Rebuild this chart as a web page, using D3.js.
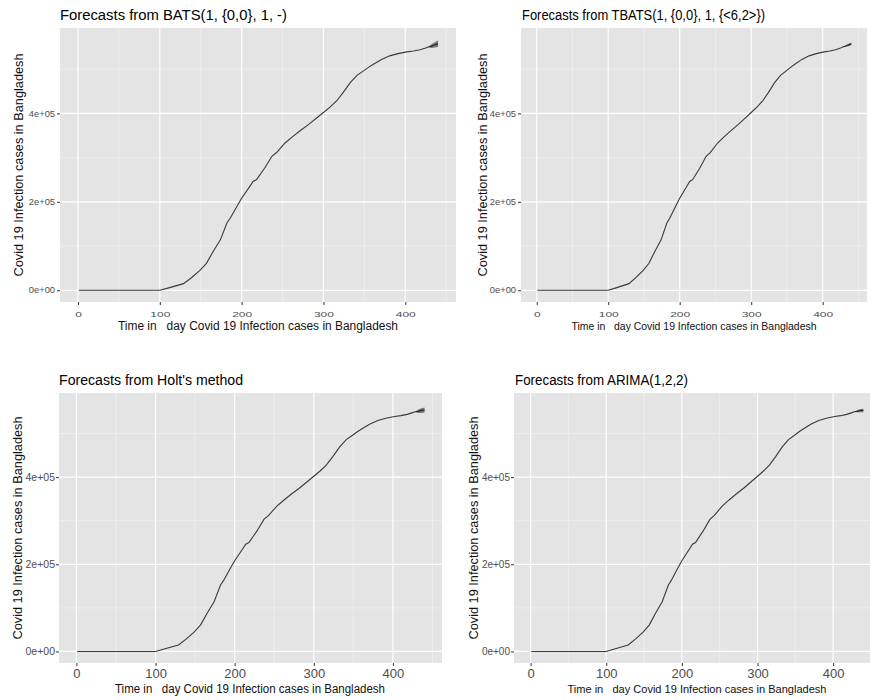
<!DOCTYPE html>
<html>
<head>
<meta charset="utf-8">
<script src="https://cdn.jsdelivr.net/npm/d3@7"></script>
<style>
  body { margin: 0; background: #fff; }
  text { font-family: "Liberation Sans", Arial, sans-serif; }
</style>
</head>
<body>
<div id="plot"></div>
<script>
// observed series (day index -> cumulative cases, thousands)
var days  = [1, 100, 112, 129, 139, 149, 157, 165, 174, 182, 186, 194, 200, 210, 214, 218, 228, 237, 243, 253, 262, 271, 282, 292, 300, 308, 316, 324, 333, 341, 349, 355, 361, 371, 381, 391, 402, 410, 418, 425, 428];
var cases = [0, 0, 6, 15, 29, 45, 61, 87, 114, 152, 163, 189, 208, 235, 246, 250, 276, 303, 312, 333, 347, 360, 375, 390, 402, 414, 428, 447, 470, 486, 496, 504, 511, 522, 530, 535, 539, 541, 544, 548, 550];

// forecast horizon and model fans (thousands)
var fcDays    = [428, 432, 436, 440];
var batsMean  = [550, 552, 555, 557];
var batsLo    = [550, 548, 549, 550];
var batsHi    = [550, 556, 561, 565];
var tbatsMean = [550, 552, 555, 557];
var tbatsLo   = [550, 551, 552, 554];
var tbatsHi   = [550, 553, 557, 560];
var holtMean  = [550, 551, 553, 554];
var holtLo    = [550, 547, 547, 548];
var holtHi    = [550, 555, 558, 560];
var arimaMean = [550, 551, 553, 553];
var arimaLo   = [550, 549, 549, 549];
var arimaHi   = [550, 554, 556, 557];

var titles = ["Forecasts from BATS(1, {0,0}, 1, -)",
              "Forecasts from TBATS(1, {0,0}, 1, {<6,2>})",
              "Forecasts from Holt's method",
              "Forecasts from ARIMA(1,2,2)"];
var xTicks = [0, 100, 200, 300, 400];
var xMinor = [50, 150, 250, 350, 450];
var yTicks = [0, 200000, 400000];
var yTickLabels = ["0e+00", "2e+05", "4e+05"];
var yMinor = [100000, 300000, 500000];
var xLabel = "Time in   day Covid 19 Infection cases in Bangladesh";
var yLabel = "Covid 19 Infection cases in Bangladesh";

var fans = [
  {mean: batsMean, lo: batsLo, hi: batsHi},
  {mean: tbatsMean, lo: tbatsLo, hi: tbatsHi},
  {mean: holtMean, lo: holtLo, hi: holtHi},
  {mean: arimaMean, lo: arimaLo, hi: arimaHi}
];

// panel geometry (pixels)
var panels = [
  {l: 60,  r: 456, t: 28,  b: 302, tx: 60,  ty: 20,  tw: 227, yl: 23,  xlx: 258, xly: 330, xlw: 280, xfs: 12.5, small: true},
  {l: 521, r: 867, t: 28,  b: 302, tx: 522, ty: 20,  tw: 243, yl: 487, xlx: 694, xly: 330, xlw: 245, xfs: 11,   small: true},
  {l: 59,  r: 442, t: 393, b: 663, tx: 59,  ty: 385, tw: 184, yl: 22,  xlx: 250, xly: 693, xlw: 270, xfs: 12,   small: false},
  {l: 514, r: 880, t: 393, b: 663, tx: 515, ty: 385, tw: 173, yl: 478, xlx: 697, xly: 693, xlw: 259, xfs: 11.5, small: false}
];

var svg = d3.select('#plot').append('svg')
    .attr('width', 870)
    .attr('height', 700);

panels.forEach(function(p, i) {
  var g = svg.append('g');

  var x = d3.scaleLinear().domain([-22, 462]).range([p.l, p.r]);
  var y = d3.scaleLinear().domain([-26500, 593000]).range([p.b, p.t]);

  // background
  g.append('rect')
    .attr('x', p.l).attr('y', p.t)
    .attr('width', p.r - p.l).attr('height', p.b - p.t)
    .attr('fill', '#e4e4e4');

  // minor grid
  g.selectAll('.xminor').data(xMinor).enter().append('line')
    .attr('x1', d => x(d)).attr('x2', d => x(d))
    .attr('y1', p.t).attr('y2', p.b)
    .attr('stroke', '#f4f4f4').attr('stroke-width', 0.6);
  g.selectAll('.yminor').data(yMinor).enter().append('line')
    .attr('x1', p.l).attr('x2', p.r)
    .attr('y1', d => y(d)).attr('y2', d => y(d))
    .attr('stroke', '#f4f4f4').attr('stroke-width', 0.6);

  // major grid
  g.selectAll('.xmajor').data(xTicks).enter().append('line')
    .attr('x1', d => x(d)).attr('x2', d => x(d))
    .attr('y1', p.t).attr('y2', p.b)
    .attr('stroke', '#fff').attr('stroke-width', 1.2);
  g.selectAll('.ymajor').data(yTicks).enter().append('line')
    .attr('x1', p.l).attr('x2', p.r)
    .attr('y1', d => y(d)).attr('y2', d => y(d))
    .attr('stroke', '#fff').attr('stroke-width', 1.2);

  // forecast fan
  var fan = fans[i];
  var area = d3.area()
    .x((d, j) => x(fcDays[j]))
    .y0((d, j) => y(fan.lo[j] * 1000))
    .y1((d, j) => y(fan.hi[j] * 1000));
  g.append('path')
    .attr('d', area(fcDays))
    .attr('fill', '#555')
    .attr('opacity', 0.75);

  // observed series
  var line = d3.line()
    .x((d, j) => x(days[j]))
    .y(d => y(d * 1000));
  g.append('path')
    .attr('d', line(cases))
    .attr('fill', 'none')
    .attr('stroke', '#3a3a3a')
    .attr('stroke-width', 1.1);

  var fline = d3.line()
    .x((d, j) => x(fcDays[j]))
    .y(d => y(d * 1000));
  g.append('path')
    .attr('d', fline(fan.mean))
    .attr('fill', 'none')
    .attr('stroke', '#2a2a2a')
    .attr('stroke-width', 1.2);

  // axes
  var xaxis = d3.axisBottom(x).tickValues(xTicks).tickSize(3).tickSizeOuter(0)
                .tickPadding(p.small ? 6 : 3);
  var gx = g.append('g')
    .attr('transform', 'translate(0,' + p.b + ')')
    .call(xaxis);
  gx.select('.domain').remove();
  gx.selectAll('line').attr('stroke', '#333');
  gx.selectAll('text')
    .attr('fill', '#4d4d4d')
    .style('font-size', p.small ? '8px' : '13px')
    .attr('transform', p.small ? 'scale(1.5,1)' : null);

  var yaxis = d3.axisLeft(y).tickValues(yTicks).tickSize(3).tickSizeOuter(0)
                .tickPadding(p.small ? 1.5 : 1)
                .tickFormat((d, j) => yTickLabels[j]);
  var gy = g.append('g')
    .attr('transform', 'translate(' + p.l + ',0)')
    .call(yaxis);
  gy.select('.domain').remove();
  gy.selectAll('line').attr('stroke', '#333');
  gy.selectAll('text')
    .attr('fill', '#4d4d4d')
    .style('font-size', p.small ? '8.5px' : (i == 2 ? '10.5px' : '10px'))
    .attr('transform', p.small ? 'scale(1.1,1)' : null);

  // title
  g.append('text')
    .attr('x', p.tx).attr('y', p.ty)
    .attr('textLength', p.tw)
    .attr('lengthAdjust', 'spacingAndGlyphs')
    .style('font-size', '14px')
    .attr('fill', '#000')
    .text(titles[i]);

  // x axis label
  g.append('text')
    .attr('x', p.xlx)
    .attr('y', p.xly)
    .attr('text-anchor', 'middle')
    .attr('textLength', p.xlw)
    .attr('lengthAdjust', 'spacingAndGlyphs')
    .style('font-size', p.xfs + 'px')
    .style('white-space', 'pre')
    .attr('fill', '#111')
    .text(xLabel);

  // y axis label
  g.append('text')
    .attr('transform', 'translate(' + p.yl + ',' + ((p.t + p.b) / 2) + ') rotate(-90)')
    .attr('text-anchor', 'middle')
    .attr('textLength', 223)
    .attr('lengthAdjust', 'spacingAndGlyphs')
    .style('font-size', '12.5px')
    .attr('fill', '#111')
    .text(yLabel);
});
</script>
</body>
</html>
